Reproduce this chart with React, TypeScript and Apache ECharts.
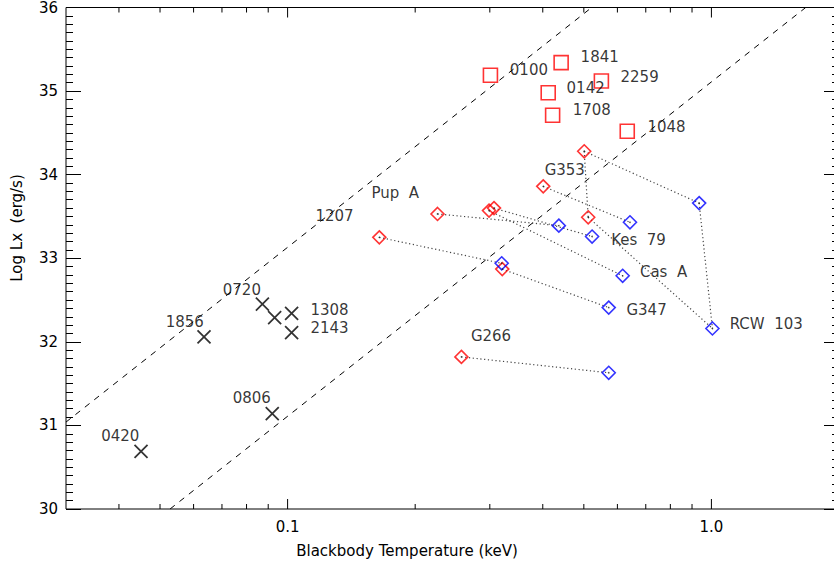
import React, { useEffect, useRef } from "react";
import * as echarts from "echarts";

// Magnetars (red squares)
const magNames = ["0100", "1841", "2259", "0142", "1708", "1048"];
const magT = [0.301, 0.442, 0.55, 0.412, 0.422, 0.633];
const magL = [35.19, 35.34, 35.12, 34.98, 34.71, 34.52];

// Isolated neutron stars (black crosses)
const insNames = ["0420", "1856", "0720", "0720", "1308", "2143", "0806"];
const insT = [0.0451, 0.0635, 0.0872, 0.0932, 0.1022, 0.1022, 0.092];
const insL = [30.69, 32.06, 32.45, 32.29, 32.34, 32.11, 31.14];

// CCOs, first fit (red diamonds)
const redT = [0.501, 0.512, 0.401, 0.2258, 0.2987, 0.3069, 0.1646, 0.321, 0.2571];
const redL = [34.28, 33.49, 33.86, 33.53, 33.57, 33.6, 33.25, 32.87, 31.82];

// CCOs, second fit (blue diamonds)
const blueT = [0.9356, 1.0055, 0.6424, 0.4365, 0.5229, 0.6174, 0.32, 0.5724, 0.5724];
const blueL = [33.66, 32.16, 33.43, 33.39, 33.26, 32.79, 32.94, 32.41, 31.63];

// dotted connections: [kindA, indexA, kindB, indexB]
const links: [string, number, string, number][] = [
  ["r", 0, "b", 0],
  ["b", 0, "b", 1],
  ["r", 0, "r", 1],
  ["r", 1, "b", 1],
  ["r", 2, "b", 2],
  ["r", 3, "b", 3],
  ["r", 5, "b", 4],
  ["r", 4, "b", 5],
  ["r", 6, "b", 6],
  ["r", 7, "b", 7],
  ["r", 8, "b", 8],
];

// text labels (name, T, L)
const labelNames = ["0420", "1856", "0720", "1308", "2143", "0806", "0100", "1841", "2259", "0142", "1708", "1048",
  "G353", "Pup  A", "1207", "Kes  79", "Cas  A", "G347", "RCW  103", "G266"];
const labelT = [0.0403, 0.0572, 0.078, 0.1256, 0.1256, 0.0823, 0.371, 0.545, 0.677, 0.505, 0.522, 0.7837,
  0.4508, 0.1795, 0.129, 0.673, 0.771, 0.703, 1.347, 0.302];
const labelL = [30.87, 32.24, 32.62, 32.38, 32.17, 31.33, 35.25, 35.41, 35.17, 35.04, 34.77, 34.57,
  34.06, 33.78, 33.51, 33.22, 32.84, 32.38, 32.21, 32.07];

// blackbody radius lines (log L = c + 4 log T): R = 10 km and R = 1 km
const line10T = [0.03, 0.5217];
const line10L = [31.04, 36];
const line1T = [0.0528, 1.669];
const line1L = [30, 36];

const xMajor = [0.1, 1.0];
const xMinor = [0.04, 0.05, 0.06, 0.07, 0.08, 0.09, 0.2, 0.3, 0.4, 0.5, 0.6, 0.7, 0.8, 0.9];

const FONT = "DejaVu Sans";

export default function App() {
  const ref = useRef<HTMLDivElement>(null);
  useEffect(() => {
    if (!ref.current) return;
    const chart = echarts.init(ref.current, undefined, { renderer: "svg" });
    const pt = (k: string, i: number) => (k === "r" ? [redT[i], redL[i]] : [blueT[i], blueL[i]]);
    const tickData = [
      ...xMajor.map((v) => [v, 30, 1]),
      ...xMinor.map((v) => [v, 30, 0]),
    ];
    const option: any = {
      animation: false,
      backgroundColor: "#fff",
      grid: { left: 66, right: 1, top: 6, bottom: 60, show: true, borderColor: "#000", borderWidth: 1, backgroundColor: "transparent" },
      xAxis: {
        type: "log",
        min: 0.03,
        max: 2.0,
        logBase: 10,
        axisLine: { show: false },
        axisTick: { show: false },
        splitLine: { show: false },
        axisLabel: {
          color: "#000",
          fontFamily: FONT,
          fontSize: 15,
          margin: 10,
          formatter: (v: number) => (Math.abs(v - 0.1) < 1e-6 ? "0.1" : Math.abs(v - 1) < 1e-6 ? "1.0" : ""),
        },
      },
      yAxis: [
        {
          type: "value",
          min: 30,
          max: 36,
          interval: 1,
          axisLine: { show: false },
          axisTick: { show: true, inside: true, length: 15, lineStyle: { color: "#000" } },
          minorTick: { show: true, splitNumber: 10, length: 7, lineStyle: { color: "#000" } },
          splitLine: { show: false },
          axisLabel: { color: "#000", fontFamily: FONT, fontSize: 15, margin: 8 },
        },
        {
          type: "value",
          position: "right",
          min: 30,
          max: 36,
          interval: 1,
          axisLine: { show: false },
          axisTick: { show: true, inside: true, length: 15, lineStyle: { color: "#000" } },
          minorTick: { show: true, splitNumber: 10, length: 7, lineStyle: { color: "#000" } },
          splitLine: { show: false },
          axisLabel: { show: false },
        },
      ],
      graphic: [
        {
          type: "text",
          x: 407,
          y: 551,
          style: { text: "Blackbody Temperature (keV)", fill: "#000", font: `15px "${FONT}"`, textAlign: "center", textVerticalAlign: "middle" },
        },
        {
          type: "text",
          x: 17,
          y: 228,
          rotation: Math.PI / 2,
          style: { text: "Log Lx  (erg/s)", fill: "#000", font: `15px "${FONT}"`, textAlign: "center", textVerticalAlign: "middle" },
        },
      ],
      series: [
        {
          type: "custom",
          coordinateSystem: "cartesian2d",
          silent: true,
          clip: false,
          data: tickData,
          renderItem: (params: any, api: any) => {
            const v = api.value(0);
            const major = api.value(2);
            const pb = api.coord([v, 30]);
            const ptop = api.coord([v, 36]);
            const len = major ? 10 : 5;
            return {
              type: "group",
              children: [
                { type: "line", shape: { x1: pb[0], y1: pb[1], x2: pb[0], y2: pb[1] - len }, style: { stroke: "#000", lineWidth: 1 } },
                { type: "line", shape: { x1: ptop[0], y1: ptop[1], x2: ptop[0], y2: ptop[1] + len }, style: { stroke: "#000", lineWidth: 1 } },
              ],
            };
          },
        },
        {
          type: "line",
          data: line10T.map((t, i) => [t, line10L[i]]),
          symbol: "none",
          lineStyle: { color: "#000", width: 1, type: [6, 6] },
          silent: true,
        },
        {
          type: "line",
          data: line1T.map((t, i) => [t, line1L[i]]),
          symbol: "none",
          lineStyle: { color: "#000", width: 1, type: [6, 6] },
          silent: true,
        },
        {
          type: "lines",
          coordinateSystem: "cartesian2d",
          silent: true,
          lineStyle: { color: "#444", width: 1.2, type: [1.2, 2.6], opacity: 1 },
          data: links.map(([ka, ia, kb, ib]) => ({ coords: [pt(ka, ia), pt(kb, ib)] })),
        },
        {
          type: "scatter",
          symbol: "path://M0,0L10,10M10,0L0,10",
          symbolSize: 13,
          itemStyle: { color: "transparent", borderColor: "#000", borderWidth: 1.8 },
          data: insT.map((t, i) => ({ value: [t, insL[i]], name: insNames[i] })),
        },
        {
          type: "scatter",
          symbol: "rect",
          symbolSize: 14,
          itemStyle: { color: "transparent", borderColor: "#f00", borderWidth: 1.6 },
          data: magT.map((t, i) => ({ value: [t, magL[i]], name: magNames[i] })),
        },
        {
          type: "scatter",
          symbol: "diamond",
          symbolSize: 13,
          itemStyle: { color: "transparent", borderColor: "#f00", borderWidth: 1.6 },
          data: redT.map((t, i) => [t, redL[i]]),
        },
        {
          type: "scatter",
          symbol: "diamond",
          symbolSize: 13,
          itemStyle: { color: "transparent", borderColor: "#00f", borderWidth: 1.6 },
          data: blueT.map((t, i) => [t, blueL[i]]),
        },
        {
          type: "scatter",
          symbol: "circle",
          symbolSize: 1.6,
          silent: true,
          itemStyle: { color: "#222" },
          data: [...redT.map((t, i) => [t, redL[i]]), ...blueT.map((t, i) => [t, blueL[i]])],
        },
        {
          type: "scatter",
          symbolSize: 1,
          silent: true,
          itemStyle: { color: "transparent" },
          label: {
            show: true,
            position: "inside",
            formatter: (p: any) => p.name,
            color: "#000",
            fontFamily: FONT,
            fontSize: 15,
            align: "center",
            verticalAlign: "middle",
          },
          data: labelT.map((t, i) => ({ value: [t, labelL[i]], name: labelNames[i] })),
        },
      ],
    };
    chart.setOption(option);
    return () => chart.dispose();
  }, []);
  return (
    <div style={{ position: "absolute", left: 0, top: 0, width: 834, height: 569, overflow: "hidden" }}>
      <div ref={ref} style={{ width: 842, height: 569 }} />
    </div>
  );
}
